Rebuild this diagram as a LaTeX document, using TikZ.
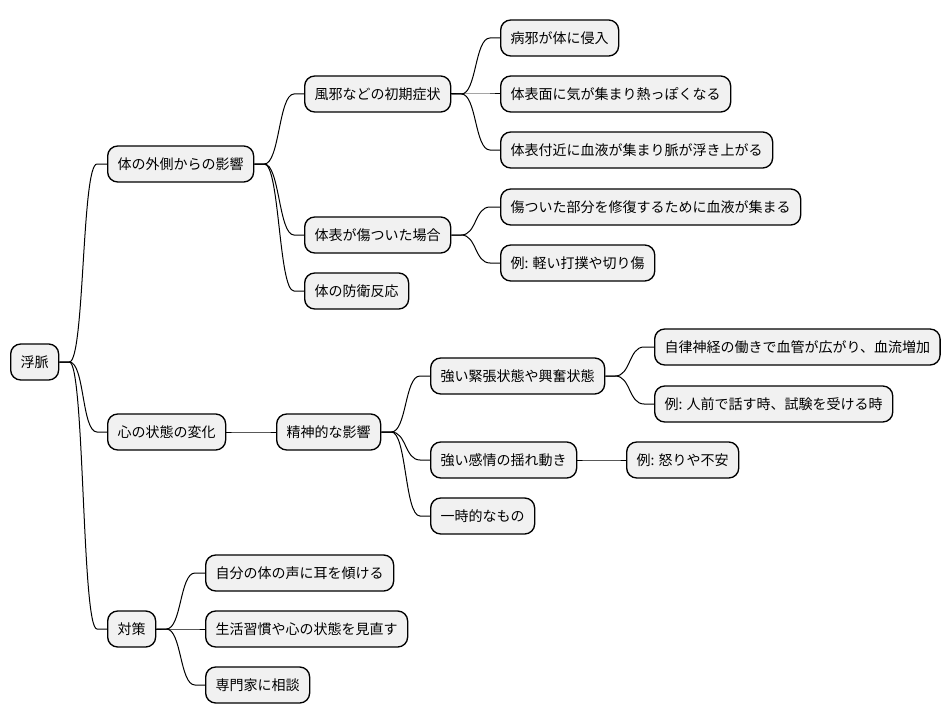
\documentclass[tikz,border=0pt]{standalone}
\usepackage{fontspec}
\setmainfont{Noto Sans CJK JP}
\usetikzlibrary{calc}
\definecolor{nodefill}{HTML}{F1F1F1}
\tikzset{
  mm/.style={draw=black, fill=nodefill, rounded corners=7.5pt, line width=1pt,
    minimum height=27pt, inner xsep=7.5pt, inner ysep=0pt, anchor=west,
    text height=0.88em, text depth=0.12em,
    font=\fontsize{10.5}{12}\selectfont},
  link/.style={draw=black, line width=0.75pt},
}
\newcommand\mmlink[2]{\draw[link] let \p1=(#1.east), \p2=(#2.west) in
  (\p1) -- (\x1+7.5pt,\y1) .. controls (\x1+19pt,\y1) and (\x2-19pt,\y2) .. (\x2-7.5pt,\y2) -- (\p2);}
\begin{document}
\begin{tikzpicture}[x=0.75pt,y=-0.75pt]
\useasboundingbox (0,0) rectangle (950,724);
\node[mm] (root) at (10,362) {浮脈};
\node[mm] (a) at (107,164) {体の外側からの影響};
\node[mm] (a1) at (304,94) {風邪などの初期症状};
\node[mm] (a11) at (500,38) {病邪が体に侵入};
\node[mm] (a12) at (500,94) {体表面に気が集まり熱っぽくなる};
\node[mm] (a13) at (500,150) {体表付近に血液が集まり脈が浮き上がる};
\node[mm] (a2) at (304,235) {体表が傷ついた場合};
\node[mm] (a21) at (500,207) {傷ついた部分を修復するために血液が集まる};
\node[mm] (a22) at (500,263) {例: 軽い打撲や切り傷};
\node[mm] (a3) at (304,291) {体の防衛反応};
\node[mm] (b) at (107,432) {心の状態の変化};
\node[mm] (b1) at (276,432) {精神的な影響};
\node[mm] (b11) at (430,376) {強い緊張状態や興奮状態};
\node[mm] (b111) at (654,347) {自律神経の働きで血管が広がり、血流増加};
\node[mm] (b112) at (654,404) {例: 人前で話す時、試験を受ける時};
\node[mm] (b12) at (430,460) {強い感情の揺れ動き};
\node[mm] (b121) at (626,460) {例: 怒りや不安};
\node[mm] (b13) at (430,516) {一時的なもの};
\node[mm] (c) at (107,629) {対策};
\node[mm] (c1) at (205,573) {自分の体の声に耳を傾ける};
\node[mm] (c2) at (205,629) {生活習慣や心の状態を見直す};
\node[mm] (c3) at (205,685) {専門家に相談};
\mmlink{root}{a}
\mmlink{root}{b}
\mmlink{root}{c}
\mmlink{a}{a1}
\mmlink{a}{a2}
\mmlink{a}{a3}
\mmlink{a1}{a11}
\mmlink{a1}{a12}
\mmlink{a1}{a13}
\mmlink{a2}{a21}
\mmlink{a2}{a22}
\mmlink{b}{b1}
\mmlink{b1}{b11}
\mmlink{b1}{b12}
\mmlink{b1}{b13}
\mmlink{b11}{b111}
\mmlink{b11}{b112}
\mmlink{b12}{b121}
\mmlink{c}{c1}
\mmlink{c}{c2}
\mmlink{c}{c3}
\end{tikzpicture}
\end{document}
